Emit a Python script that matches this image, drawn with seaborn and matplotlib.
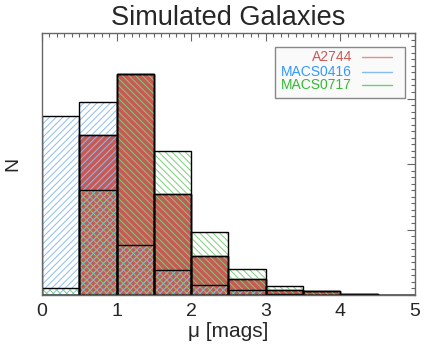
"""Simulated galaxies: magnification histograms for three clusters."""

import numpy as np
import matplotlib
matplotlib.use('Agg')
import matplotlib.pyplot as plt
from matplotlib.patches import Rectangle
from matplotlib.ticker import MultipleLocator
import seaborn as sns

# Bin edges (mu in mags) and counts
bin_edges = [0.0, 0.5, 1.0, 1.5, 2.0, 2.5, 3.0, 3.5, 4.0, 4.5, 5.0]
counts_a2744 = [0, 244, 337, 154, 60, 24, 8, 6, 1.5, 0]
counts_macs0416 = [273, 295, 76, 38, 15, 8, 2, 0, 0, 0]
counts_macs0717 = [11, 160, 337, 220, 96, 40, 14, 6, 1.5, 0]

labels = ['A2744', 'MACS0416', 'MACS0717']
text_colors = ['#C85A55', '#3399FF', '#33BB33']
line_colors = ['#E09090', '#88BBF0', '#77CC77']
red_fill = '#C85A55'
blue_hatch = '#8CBCF2'
green_hatch = '#7ACF7A'

sns.set_theme(style='white')
plt.rcParams['font.family'] = ['Liberation Sans', 'DejaVu Sans']
plt.rcParams['hatch.linewidth'] = 0.7

centers = [(a + b) / 2 for a, b in zip(bin_edges[:-1], bin_edges[1:])]

fig = plt.figure(figsize=(4.36, 3.63), dpi=100)
ax = fig.add_axes([0.0963, 0.1873, 0.8555, 0.7217])

# filled red bars
sns.histplot(x=centers, weights=counts_a2744, bins=bin_edges, ax=ax,
             color=red_fill, alpha=1, edgecolor='black', linewidth=1)

# hatched bars (hatch colour comes from edgecolor)
sns.histplot(x=centers, weights=counts_macs0416, bins=bin_edges, ax=ax,
             fill=False, color=blue_hatch, hatch='/////', linewidth=0)
sns.histplot(x=centers, weights=counts_macs0717, bins=bin_edges, ax=ax,
             fill=False, color=green_hatch, hatch='\\\\\\\\\\', linewidth=0)

# black outlines on top
for counts in (counts_macs0416, counts_macs0717, counts_a2744):
    sns.histplot(x=centers, weights=counts, bins=bin_edges, ax=ax,
                 fill=False, color='black', linewidth=1)

ax.set_xlim(0, 5)
ax.set_ylim(0, 400)
ax.xaxis.set_major_locator(MultipleLocator(1))
ax.xaxis.set_minor_locator(MultipleLocator(0.1))
ax.yaxis.set_major_locator(MultipleLocator(100))
ax.yaxis.set_minor_locator(MultipleLocator(10))
ax.tick_params(which='both', direction='in', top=True, right=True,
               color='#666666', width=0.8)
ax.tick_params(which='major', length=5.5, labelsize=14, pad=6)
ax.tick_params(which='minor', length=3)
ax.set_yticklabels([])
for s in ax.spines.values():
    s.set_color('#666666')
    s.set_linewidth(1)

ax.set_title('Simulated Galaxies', fontsize=19.5, pad=6)
ax.set_xlabel('\u03bc [mags]', fontsize=15, labelpad=1)
ax.set_ylabel('N', fontsize=14)
ax.yaxis.set_label_coords(-0.055, 0.5)

# legend drawn by hand so the labels can be right aligned
ax.add_patch(Rectangle((0.625, 0.752), 0.348, 0.195, transform=ax.transAxes,
                       facecolor='#FAFAFA', edgecolor='#888888',
                       linewidth=1, zorder=5))
rows_y = [0.908, 0.853, 0.803]
for lab, tc, lc, yy in zip(labels, text_colors, line_colors, rows_y):
    ax.text(0.831, yy, lab, color=tc, fontsize=10, ha='right', va='center',
            transform=ax.transAxes, zorder=6)
    ax.plot([0.858, 0.938], [yy, yy], color=lc, linewidth=1,
            transform=ax.transAxes, zorder=6)

fig.savefig('out.png', dpi=100)
